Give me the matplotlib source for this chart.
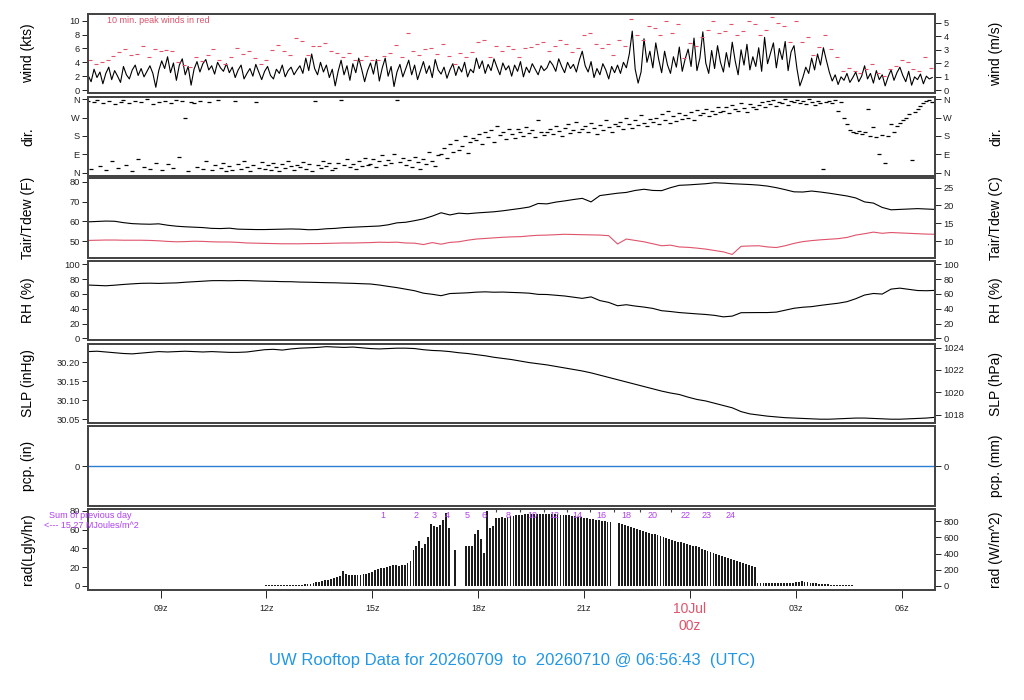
import numpy as np
import matplotlib
matplotlib.use('Agg')
import matplotlib.pyplot as plt
import matplotlib.transforms as mtrans

plt.rcParams['font.family'] = ['Liberation Sans', 'DejaVu Sans']

RED = '#DF536B'
BLUE = '#2297E6'
PURPLE = '#B040F0'
FRAME = '#444444'

# time axis: hours relative to 10 Jul 00z
t_end = 6 + 56/60 + 43/3600
x_lo, x_hi = t_end - 24, t_end
t_start = -17 - 3/60          # first sample 06:57z

# wind speed (kts), 5 min samples from 06:57z
wind = [2.1,1.2,3.0,1.8,2.6,0.9,2.4,3.3,1.5,2.8,2.0,1.1,
        3.4,2.2,1.6,2.9,3.6,2.1,3.1,1.9,2.7,3.5,2.4,0.4,
        2.8,4.2,3.1,4.8,2.5,3.9,1.4,3.6,4.5,2.2,3.4,0.7,
        3.0,4.1,2.6,3.8,4.4,2.9,3.5,2.3,4.0,3.2,2.7,3.8,
        2.5,3.3,1.8,2.9,3.6,1.6,2.4,3.1,2.0,3.7,2.6,1.5,
        2.7,3.4,2.1,1.6,3.0,2.4,3.6,1.9,2.8,3.3,2.2,2.9,
        3.5,2.4,4.6,2.8,5.2,3.1,2.2,4.0,2.6,3.6,1.8,3.0,
        0.6,2.7,4.3,2.2,3.5,1.4,3.8,2.5,4.6,3.0,1.2,2.8,
        3.9,2.3,4.4,1.3,3.2,4.6,2.0,3.4,0.5,2.6,3.7,1.9,
        3.1,4.3,2.2,3.6,1.5,2.8,4.1,2.4,3.5,1.8,4.4,2.9,
        2.3,3.3,1.7,2.9,3.8,2.1,3.4,2.6,4.0,1.9,3.0,2.5,
        4.6,3.1,4.2,2.4,3.7,2.8,4.5,3.3,2.2,3.9,2.9,3.5,
        2.0,3.6,2.7,4.1,1.9,3.3,2.5,3.8,3.0,2.2,3.5,2.8,
        3.2,4.2,3.6,2.7,4.5,3.4,2.5,4.0,3.1,3.7,2.6,4.3,
        5.6,3.5,2.6,4.1,1.8,3.1,2.2,3.8,2.9,1.6,3.4,2.5,
        3.6,2.4,4.0,3.2,5.2,8.5,3.0,1.0,2.6,7.4,4.0,5.6,
        3.2,6.8,4.4,2.5,5.6,3.6,2.4,4.8,3.3,6.2,2.7,4.5,
        5.9,3.4,7.5,2.8,4.6,8.4,3.9,2.4,5.7,3.1,6.4,4.0,
        2.6,5.4,3.3,6.9,4.2,2.2,5.8,3.6,6.6,2.9,4.8,3.4,
        6.1,2.7,7.6,3.8,5.3,6.8,3.2,6.0,4.4,7.0,2.8,5.5,
        6.4,3.1,0.6,1.8,3.3,2.4,4.6,2.9,5.2,3.6,6.1,4.3,
        2.6,1.3,2.2,0.8,1.9,1.4,2.4,1.1,1.8,2.6,1.2,2.0,
        3.5,1.6,2.4,1.0,2.8,1.5,2.2,0.6,1.9,2.9,1.4,2.5,
        3.3,2.1,1.2,2.7,0.7,1.9,1.5,2.3,0.9,2.0,1.6,1.8]

# 10 min peak winds (kts) from 07:00z
gust = [4.3,3.8,4.1,4.4,4.9,5.5,5.9,5.0,5.2,6.4,4.8,5.9,
        5.7,5.8,5.7,4.0,3.6,3.3,4.7,4.2,5.0,5.9,4.4,3.8,
        4.7,6.0,5.2,5.7,4.6,3.8,4.4,5.8,6.5,5.7,5.1,7.5,
        7.1,5.1,6.3,6.3,6.8,5.6,5.4,4.7,5.3,4.4,4.4,4.9,
        4.4,4.4,4.9,5.4,6.5,4.7,8.3,5.6,5.0,5.9,6.1,5.2,
        6.6,4.9,3.8,5.3,4.7,5.5,7.0,7.2,4.8,6.3,5.6,6.3,
        5.9,4.7,6.0,6.2,6.7,7.0,5.7,6.4,7.2,6.6,5.5,6.0,
        7.9,8.3,6.7,6.0,6.7,5.1,7.2,6.3,10.2,8.0,7.2,9.2,
        9.0,8.0,9.9,8.2,9.5,4.6,6.8,6.4,7.6,8.7,10.0,8.3,
        8.5,9.5,8.0,8.5,9.9,9.5,8.0,8.6,10.6,9.6,9.3,6.9,
        9.9,7.0,7.6,5.0,6.2,7.9,5.9,4.8,2.8,3.2,2.8,2.5,
        3.0,3.7,2.5,2.0,3.0,3.4,4.4,4.0,3.0,2.7,4.8,3.2]

# wind direction (deg), same times as wind
wdir = [350,20,345,355,35,340,15,352,60,338,25,348,
        355,40,342,10,350,70,345,30,358,20,336,50,
        348,15,352,45,340,25,355,80,350,270,10,345,
        340,30,352,20,60,346,15,40,355,25,50,10,
        35,15,350,45,20,60,30,10,40,345,25,55,
        20,40,15,50,30,10,45,25,60,35,15,40,
        30,55,20,45,10,350,40,25,60,35,50,15,
        25,50,355,40,70,30,45,20,60,35,75,40,
        45,70,30,60,85,40,65,50,90,355,55,75,
        40,65,30,80,55,20,70,45,100,60,35,85,
        90,120,75,140,100,160,110,130,180,95,150,170,
        160,190,140,200,175,210,150,230,185,200,165,215,
        190,170,215,200,180,225,195,210,175,260,200,185,
        200,215,190,230,205,180,220,240,195,210,250,200,
        215,230,200,245,220,190,235,210,260,225,200,240,
        230,250,215,270,240,220,260,235,280,245,230,265,
        250,270,240,285,260,300,245,275,255,290,265,280,
        270,295,260,305,280,290,310,275,300,285,320,295,
        300,320,290,330,310,300,340,315,295,335,320,310,
        330,345,320,350,335,355,325,345,340,358,330,350,
        345,355,340,350,335,358,345,330,352,340,20,348,
        350,340,355,300,345,270,240,210,200,195,205,190,
        200,310,180,225,175,90,185,50,180,240,200,230,
        245,260,270,285,65,295,310,325,340,350,355,345]

# 15 min samples from 06:57z
tair = [59.7,59.9,60.1,60.0,59.3,58.8,58.6,58.5,58.7,58.0,57.5,57.2,
        57.0,56.8,56.4,56.3,56.5,56.0,55.9,55.8,55.8,55.9,56.0,56.1,
        56.0,55.7,55.8,56.2,56.4,56.8,57.0,57.2,57.4,57.6,58.2,59.2,
        59.5,60.3,61.2,62.6,64.3,63.2,64.1,63.8,64.2,64.5,64.8,65.3,
        65.9,66.5,67.2,69.0,68.8,69.7,70.3,71.0,71.6,69.8,73.0,73.6,
        74.2,74.6,75.6,76.2,75.6,75.5,77.0,78.2,78.4,78.7,79.0,79.5,
        79.3,79.0,78.8,78.6,78.3,77.8,77.0,76.0,74.9,74.8,75.3,74.8,
        74.2,73.5,72.8,71.8,69.8,69.2,67.0,65.8,66.0,66.2,66.4,66.2,66.0]
tdew = [50.3,50.4,50.5,50.5,50.4,50.4,50.4,50.3,50.1,49.8,49.6,49.7,
        49.9,49.8,49.6,49.5,49.5,49.3,49.0,48.9,48.8,48.7,48.6,48.6,
        48.6,48.7,48.7,48.8,48.9,49.0,49.0,49.1,49.2,49.4,49.3,49.4,
        49.0,48.9,48.2,49.2,48.4,49.3,49.6,50.4,51.0,51.3,51.6,51.9,
        52.1,52.2,52.6,52.9,53.0,53.2,53.4,53.3,53.2,53.1,53.0,52.7,
        48.5,51.0,50.3,49.6,48.6,47.6,47.9,47.0,46.8,46.4,45.9,45.2,
        44.5,43.2,47.3,47.5,47.6,47.0,46.7,47.6,48.8,49.7,50.2,50.6,
        50.9,51.2,51.8,53.0,53.7,54.5,53.9,54.3,54.1,53.9,53.7,53.5,53.4]
rh = [72.0,71.5,71.0,71.8,72.8,73.6,74.3,74.5,74.2,74.6,74.9,75.8,
      76.5,77.2,77.9,78.0,77.8,78.1,78.0,77.6,77.2,77.0,76.6,76.5,
      76.0,75.8,75.5,75.2,75.0,74.6,74.3,73.8,73.4,72.0,70.2,68.5,
      66.4,64.3,61.0,59.5,57.6,60.5,61.0,61.5,62.4,62.8,62.3,62.5,
      62.0,61.6,61.0,59.4,59.2,58.2,57.2,55.6,54.0,56.0,51.0,48.5,
      44.0,45.4,43.6,42.2,40.4,37.3,36.2,34.8,33.9,33.0,32.2,31.0,
      29.0,30.0,34.6,34.7,34.8,34.8,35.4,38.0,40.6,42.0,42.8,44.5,
      46.0,47.4,49.5,53.5,58.5,60.6,59.8,66.5,67.8,66.2,64.6,64.3,64.8]
slp = [30.228,30.229,30.227,30.225,30.223,30.222,30.224,30.226,30.228,30.227,30.228,30.229,
       30.228,30.227,30.228,30.227,30.226,30.226,30.227,30.230,30.233,30.234,30.232,30.235,
       30.237,30.238,30.239,30.241,30.240,30.239,30.240,30.238,30.236,30.235,30.236,30.237,
       30.237,30.236,30.233,30.231,30.230,30.228,30.225,30.223,30.220,30.217,30.213,30.210,
       30.207,30.203,30.199,30.196,30.193,30.189,30.185,30.181,30.177,30.172,30.166,30.160,
       30.154,30.148,30.142,30.136,30.130,30.124,30.119,30.115,30.108,30.102,30.098,30.092,
       30.086,30.080,30.070,30.064,30.061,30.058,30.056,30.054,30.053,30.052,30.051,30.050,
       30.050,30.051,30.052,30.053,30.053,30.052,30.051,30.050,30.050,30.051,30.052,30.053,30.055]

# solar radiation (Lgly/hr), 5 min samples from 12:00z
rad = [0.5,0.5,0.6,0.6,0.7,0.7,0.8,0.9,1.0,1.0,1.1,1.2,
       1.3,1.6,2.0,2.6,3.3,3.8,4.4,5.0,5.8,6.8,7.8,8.6,
       9.5,10.5,16.0,12.5,12.0,12.0,12.0,11.5,12.0,12.5,13.0,14.0,
       15.0,16.5,18.0,19.0,19.5,20.5,21.5,22.0,22.0,21.5,22.0,22.5,
       24.0,26.0,38.0,42.0,48.0,40.0,45.0,52.0,66.0,64.0,63.0,65.0,
       70.0,78.0,62.0,0.0,38.0,0.0,0.0,0.0,42.0,43.0,42.0,55.0,
       60.0,50.0,35.0,80.0,62.0,64.0,72.0,72.0,73.0,72.0,73.0,74.0,
       74.0,75.0,75.0,75.5,76.0,76.0,76.0,76.0,76.5,76.5,76.0,76.0,
       76.0,76.0,76.0,76.0,75.5,75.5,75.0,75.0,74.5,74.0,73.5,73.0,
       72.5,72.0,71.5,71.0,70.5,70.0,69.5,69.0,68.5,68.0,0.0,0.0,
       67.0,66.0,65.0,63.5,62.5,61.5,60.5,59.5,58.5,57.5,56.5,55.5,
       55.0,54.0,53.0,52.0,51.0,50.0,49.0,48.0,47.0,46.5,45.5,44.5,
       44.0,43.0,42.0,41.0,39.5,38.5,37.5,36.0,35.0,34.0,33.0,32.0,
       31.0,30.0,28.5,27.5,26.5,25.5,24.5,23.5,22.5,21.5,20.5,3.5,
       3.5,3.5,3.4,3.3,3.3,3.2,3.2,3.1,3.4,3.5,3.6,3.6,
       3.8,4.5,4.8,4.6,4.2,3.5,3.0,2.7,2.2,2.0,1.8,1.6,
       1.4,1.3,1.2,1.1,1.0,0.9,0.8,0.6,0.0,0.0,0.0,0.0]

# hourly count marks on top of the radiation panel
hr_lbl = ['1','2','3','4','5','6','8','10','12','14','16','18','20','22','23','24']
hr_lbl_t = [-8.69,-7.75,-7.24,-6.87,-6.30,-5.82,-5.14,-4.46,-3.83,-3.18,-2.50,
            -1.79,-1.05,-0.11,0.48,1.16]
hr_tick_t = [-5.48,-4.80,-4.12,-3.49,-2.84,-2.16,-1.42,-0.54]

xtick_t = [-15, -12, -9, -6, -3, 0, 3, 6]
xtick_lbl = ['09z', '12z', '15z', '18z', '21z', '', '03z', '06z']

wind_t = t_start + np.arange(len(wind)) * 5 / 60
gust_t = -17 + np.arange(len(gust)) * 10 / 60
slow_t = t_start + np.arange(len(tair)) * 0.25
rad_t = -12 + np.arange(len(rad)) * 5 / 60

W, H = 1024, 700
fig = plt.figure(figsize=(W / 100, H / 100), dpi=100)
rows = [(14, 93), (97, 176), (178, 258), (261, 340), (344, 423), (426, 506), (509, 590)]
left_lbl = ['wind (kts)', 'dir.', 'Tair/Tdew (F)', 'RH (%)', 'SLP (inHg)', 'pcp. (in)', 'rad(Lgly/hr)']
right_lbl = ['wind (m/s)', 'dir.', 'Tair/Tdew (C)', 'RH (%)', 'SLP (hPa)', 'pcp. (mm)', 'rad (W/m^2)']


def style(a):
    for s in a.spines.values():
        s.set_color(FRAME)
        s.set_linewidth(1.3)
    a.tick_params(axis='y', labelsize=6.7, length=4, width=0.7, pad=2,
                  colors='#222222', direction='out')


axes, twins = [], []
for i, (top, bot) in enumerate(rows):
    ax = fig.add_axes([88 / W, 1 - bot / H, (935 - 88) / W, (bot - top) / H])
    ax.set_xlim(x_lo, x_hi)
    ax.set_xticks([])
    rx = ax.twinx()
    style(ax)
    style(rx)
    axes.append(ax)
    twins.append(rx)
    yc = 1 - (top + bot) / 2 / H
    fig.text(28 / W, yc, left_lbl[i], rotation=90, ha='center', va='center', fontsize=10)
    fig.text(996 / W, yc, right_lbl[i], rotation=90, ha='center', va='center', fontsize=10)

# wind
ax, rx = axes[0], twins[0]
ax.plot(wind_t, wind, color='black', lw=0.8)
ax.plot(gust_t, gust, ls='none', marker='_', ms=3.5, mew=0.8, color=RED)
ax.set_ylim(-0.43, 10.97)
ax.set_yticks([0, 2, 4, 6, 8, 10])
rx.set_ylim(-0.43 / 1.944, 10.97 / 1.944)
rx.set_yticks([0, 1, 2, 3, 4, 5])
ax.text(0.0224, 0.924, '10 min. peak winds in red', transform=ax.transAxes,
        color=RED, fontsize=6.5, ha='left', va='center')

# direction
ax, rx = axes[1], twins[1]
ax.plot(wind_t, wdir, ls='none', marker='_', ms=3.5, mew=0.9, color='black')
for a in (ax, rx):
    a.set_ylim(-15, 370)
    a.set_yticks([0, 90, 180, 270, 360])
    a.set_yticklabels(['N', 'E', 'S', 'W', 'N'])

# temperature / dew point
ax, rx = axes[2], twins[2]
ax.plot(slow_t, tair, color='black', lw=0.8)
ax.plot(slow_t, tdew, color=RED, lw=0.8)
ax.set_ylim(41.4, 81.9)
ax.set_yticks([50, 60, 70, 80])
rx.set_ylim((41.4 - 32) / 1.8, (81.9 - 32) / 1.8)
rx.set_yticks([10, 15, 20, 25])

# relative humidity
ax, rx = axes[3], twins[3]
ax.plot(slow_t, rh, color='black', lw=0.8)
for a in (ax, rx):
    a.set_ylim(-2.3, 104.5)
    a.set_yticks([0, 20, 40, 60, 80, 100])

# sea level pressure
ax, rx = axes[4], twins[4]
ax.plot(slow_t, slp, color='black', lw=0.8)
ax.set_ylim(30.040, 30.248)
ax.set_yticks([30.05, 30.10, 30.15, 30.20])
ax.set_yticklabels(['30.05', '30.10', '30.15', '30.20'])
rx.set_ylim(30.040 * 33.8639, 30.248 * 33.8639)
rx.set_yticks([1018, 1020, 1022, 1024])

# precipitation
ax, rx = axes[5], twins[5]
ax.axhline(0, color='#2a7fd4', lw=1)
for a in (ax, rx):
    a.set_ylim(-1, 1)
    a.set_yticks([0])

# radiation
ax, rx = axes[6], twins[6]
ax.bar(rad_t, rad, width=5 / 60 * 0.62, color='#1c1c1c', linewidth=0)
ax.set_ylim(-4.3, 81.8)
ax.set_yticks([0, 20, 40, 60, 80])
rx.set_ylim(-4.3 * 11.63, 81.8 * 11.63)
rx.set_yticks([0, 200, 400, 600, 800])
ax.set_xticks(xtick_t)
ax.set_xticklabels(xtick_lbl)
ax.tick_params(axis='x', labelsize=6.5, length=6, width=0.7, pad=4, colors='#222222')
blend = mtrans.blended_transform_factory(ax.transData, ax.transAxes)
for lbl, t in zip(hr_lbl, hr_lbl_t):
    ax.text(t, 0.925, lbl, transform=blend, color=PURPLE, fontsize=6.5,
            ha='center', va='center')
ax.vlines(hr_tick_t, 0.96, 1.0, transform=blend, color='#444444', lw=0.8)
ax.text(0, -0.235, '10Jul', transform=blend, color=RED, fontsize=10, ha='center', va='center')
ax.text(0, -0.445, '00z', transform=blend, color=RED, fontsize=10, ha='center', va='center')

fig.text(90 / W, 1 - 515 / H, 'Sum of previous day', color=PURPLE, fontsize=6.5,
         ha='center', va='center')
fig.text(91 / W, 1 - 526 / H, '<--- 15.27 MJoules/m^2', color=PURPLE, fontsize=6.5,
         ha='center', va='center')

fig.text(512 / W, 1 - 660 / H, 'UW Rooftop Data for 20260709  to  20260710 @ 06:56:43  (UTC)',
         color=BLUE, fontsize=12, ha='center', va='center')

fig.savefig('out.png', dpi=100)
